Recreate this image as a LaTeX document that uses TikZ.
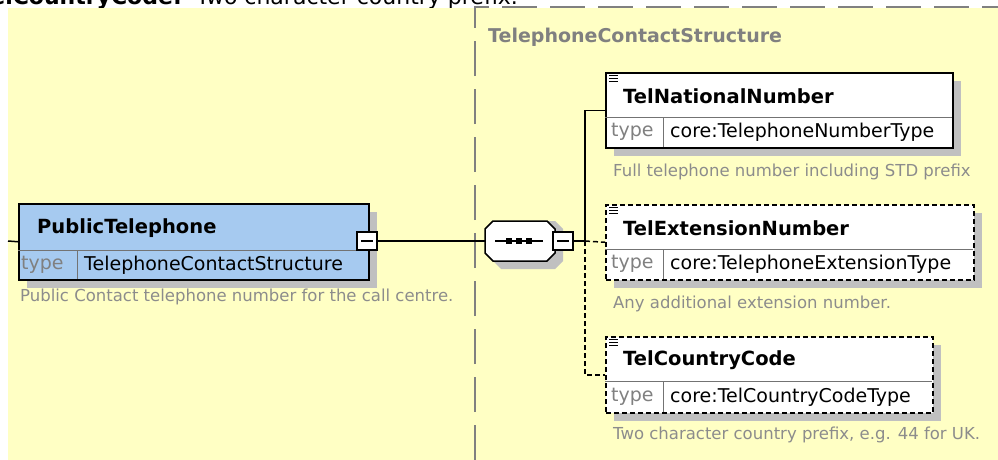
\documentclass[tikz,border=0pt]{standalone}
\usepackage{fontspec}
\setmainfont{DejaVu Sans}
\usepackage{tikz}
\usetikzlibrary{shadows}

\definecolor{xsdyellow}{HTML}{FFFFC4}
\definecolor{xsdblue}{HTML}{A6CAF0}
\definecolor{xsdshadow}{HTML}{C0C0C0}
\definecolor{xsdgray}{HTML}{808080}
\definecolor{xsddesc}{HTML}{8C8C8C}

\tikzset{
  elembox/.style={draw, line width=1.5pt, fill=white, anchor=north west, inner sep=0pt,
    drop shadow={shadow xshift=8pt, shadow yshift=-8pt, opacity=1, fill=xsdshadow}},
  optbox/.style={elembox, dash pattern=on 5pt off 3pt},
  divider/.style={line width=1pt, black!55},
  minusbox/.style={draw, line width=1.3pt, fill=white, minimum width=20pt, minimum height=18pt, inner sep=0pt,
    path picture={\draw[line width=1.3pt] ([xshift=4pt]path picture bounding box.west) -- ([xshift=-4pt]path picture bounding box.east);}},
  conn/.style={line width=1.5pt},
  optline/.style={dash pattern=on 5pt off 3pt},
  title/.style={anchor=west, inner sep=0pt, font=\fontsize{19.5}{22}\selectfont\bfseries},
  typelab/.style={anchor=west, inner sep=0pt, text=xsdgray, font=\fontsize{19}{22}\selectfont},
  typeval/.style={anchor=west, inner sep=0pt, font=\fontsize{19}{22}\selectfont},
  desc/.style={anchor=west, inner sep=0pt, text=xsddesc, font=\fontsize{16.5}{19}\selectfont},
}

\begin{document}
\begin{tikzpicture}[x=1pt, y=-1pt]
  \useasboundingbox (0,0) rectangle (998,460);
  \clip (0,0) rectangle (998,460);
  % caption of the page above, cut off
  \node[anchor=base east, inner sep=0pt, font=\fontsize{22}{26}\selectfont\bfseries] (ccnote) at (182,5) {TelCountryCode:};
  \node[anchor=base west, inner sep=0pt, font=\fontsize{22}{26}\selectfont] (ccnotetext) at (196,5) {Two character country prefix.};
  \fill[xsdyellow] (8,8) rectangle (998,460);

  % complex type frame
  \draw[xsdgray, line width=1.5pt, dash pattern=on 35pt off 13pt] (475,460) -- (475,7) -- (998,7);
  \node[anchor=west, inner sep=0pt, text=xsdgray, font=\fontsize{19}{22}\selectfont\bfseries] (ctype) at (488,37) {TelephoneContactStructure};

  % parent element
  \node[elembox, fill=xsdblue, minimum width=350pt, minimum height=76pt] (pub) at (18,203) {};
  \draw[divider] (18,250) -- (368,250);
  \draw[divider] (77,250) -- (77,279);
  \node[title] (pubname) at (37,228) {PublicTelephone};
  \node[typelab] (pubtl) at (21,265) {type};
  \node[typeval] (pubtype) at (84,265) {TelephoneContactStructure};
  \node[desc] (pubdesc) at (20,297) {Public Contact telephone number for the call centre.};
  \node[minusbox] (pubminus) at (367,241) {};

  % sequence
  \node[inner sep=0pt, minimum width=70pt, minimum height=40pt] (seq) at (520,241) {};
  \fill[xsdshadow, shift={(seq.center)}] (-27,-12) -- (-19,-20) -- (35,-20) -- (43,-12) -- (43,20) -- (35,28) -- (-19,28) -- (-27,20) -- cycle;
  \filldraw[fill=white, line width=1.5pt, shift={(seq.center)}] (-35,-12) -- (-27,-20) -- (27,-20) -- (35,-12) -- (35,12) -- (27,20) -- (-27,20) -- (-35,12) -- cycle;
  \draw[line width=1.3pt] ([xshift=-25pt]seq.center) -- ([xshift=23pt]seq.center);
  \foreach \dx in {-11,-1,9}
    \fill ([xshift=\dx pt]seq.center) +(-3,-3) rectangle +(3,3);
  \node[minusbox] (seqminus) at (563,241) {};

  % child elements
  \node[elembox, minimum width=347pt, minimum height=75pt] (nat) at (605,72) {};
  \draw[divider] (605,117) -- (952,117);
  \draw[divider] (663,117) -- (663,147);
  \node[title] (natname) at (623,96) {TelNationalNumber};
  \node[typelab] (nattl) at (611,132) {type};
  \node[typeval] (nattype) at (670,132) {core:TelephoneNumberType};
  \node[desc] (natdesc) at (613,172) {Full telephone number including STD prefix};

  \node[optbox, minimum width=368pt, minimum height=75pt] (ext) at (605,204) {};
  \draw[divider] (605,249) -- (973,249);
  \draw[divider] (663,249) -- (663,279);
  \node[title] (extname) at (623,228) {TelExtensionNumber};
  \node[typelab] (exttl) at (611,264) {type};
  \node[typeval] (exttype) at (670,264) {core:TelephoneExtensionType};
  \node[desc] (extdesc) at (613,304) {Any additional extension number.};

  \node[optbox, minimum width=327pt, minimum height=76pt] (cc) at (605,336) {};
  \draw[divider] (605,381) -- (932,381);
  \draw[divider] (663,381) -- (663,412);
  \node[title] (ccname) at (623,360) {TelCountryCode};
  \node[typelab] (cctl) at (611,397) {type};
  \node[typeval] (cctype) at (670,397) {core:TelCountryCodeType};
  \node[desc] (ccdesc) at (613,435) {Two character country prefix, e.g. 44 for UK.};

  % list icons
  \foreach \y in {72,204,336}
    \foreach \dy in {3,6,9}
      \draw[line width=1pt] (609,\y+\dy) -- (618,\y+\dy);

  % connectors
  \coordinate (inlet) at (8,241);
  \coordinate (fork) at (585,241);
  \draw[conn] (inlet) -- (pub.west);
  \draw[conn] (pubminus.east) -- (seq.west);
  \draw[conn] (seqminus.east) -- (fork);
  \draw[conn] (fork) |- (nat.west);
  \draw[conn, optline] (fork) -- (ext.west);
  \draw[conn, optline] (fork) |- (cc.west);
\end{tikzpicture}
\end{document}
